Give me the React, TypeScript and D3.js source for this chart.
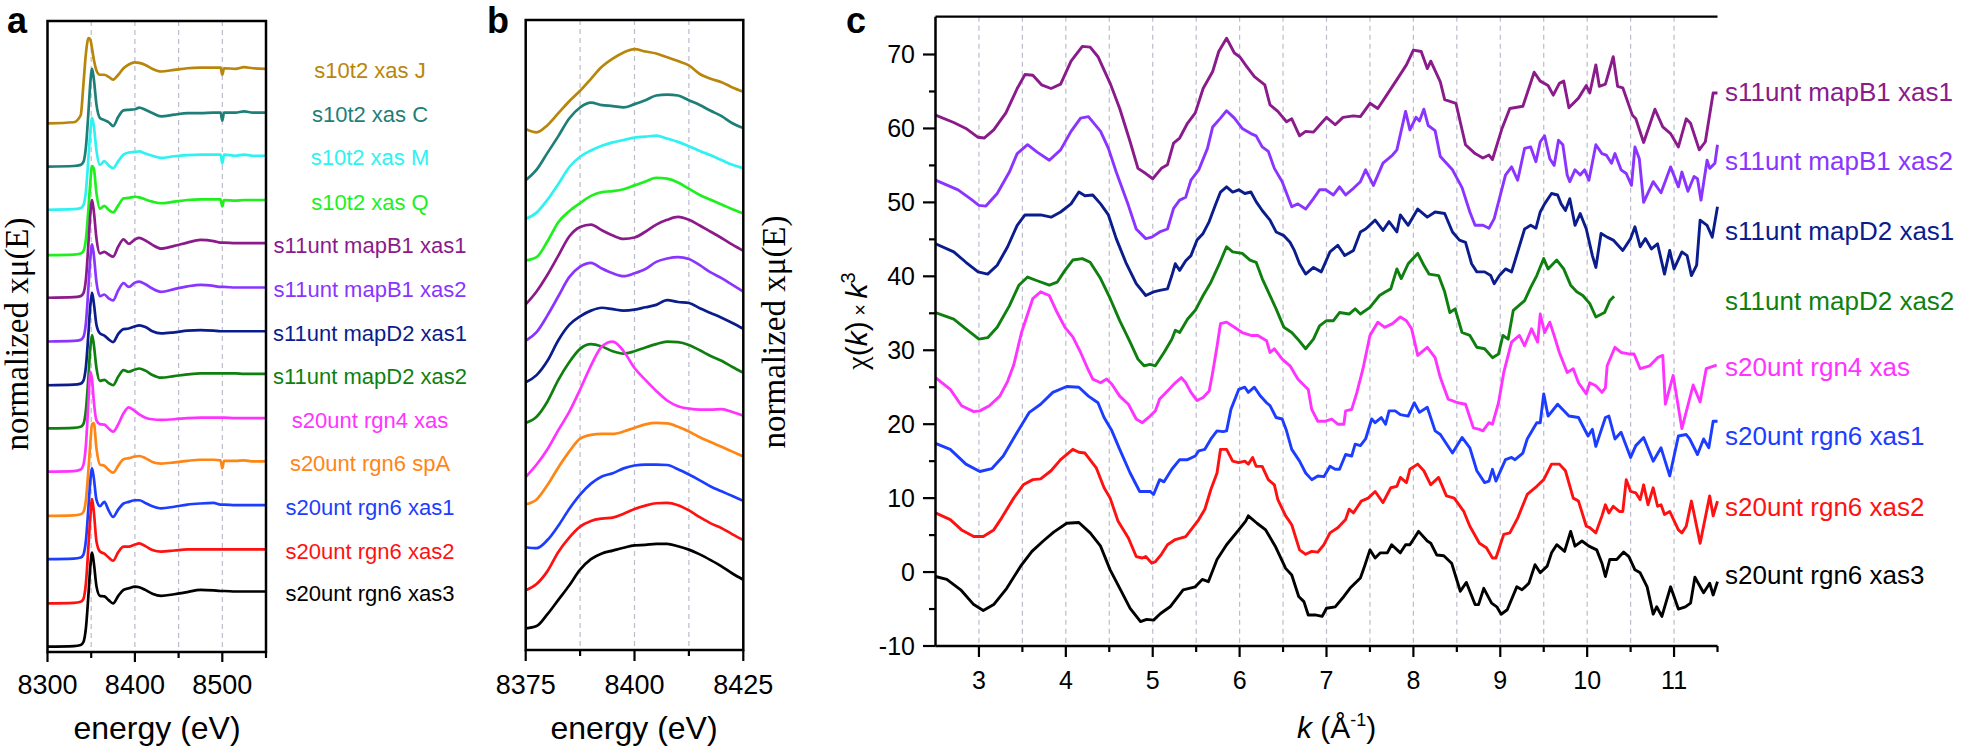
import React from 'react';
import * as d3 from 'd3';

const W = 1961;
const H = 749;
const SANS = "Arial, 'Liberation Sans', sans-serif";
const SERIF = "'Times New Roman', 'Liberation Serif', serif";

const sampleNames = [
  's10t2 xas J', 's10t2 xas C', 's10t2 xas M', 's10t2 xas Q',
  's11unt mapB1 xas1', 's11unt mapB1 xas2', 's11unt mapD2 xas1', 's11unt mapD2 xas2',
  's20unt rgn4 xas', 's20unt rgn6 spA', 's20unt rgn6 xas1', 's20unt rgn6 xas2', 's20unt rgn6 xas3',
];
const sampleColors = [
  '#B8860B', '#1E7F78', '#2EF2F2', '#1EF01E',
  '#8B1A8B', '#8A35FF', '#0B1C8C', '#0F7F0F',
  '#FF33FF', '#FF8515', '#1C3DFF', '#FF1111', '#000000',
];

// ---- panel a : full XANES, normalized mu(E), stacked by offset
const energyA = [8300, 8330, 8338, 8341, 8344, 8347, 8349, 8351, 8353, 8356, 8360, 8365, 8370, 8375, 8381, 8387, 8393, 8400, 8405, 8412, 8420, 8430, 8445, 8460, 8475, 8490, 8498, 8500, 8502, 8515, 8525, 8535, 8550];
const offsetsA = [9.79, 8.99, 8.19, 7.35, 6.56, 5.75, 4.94, 4.14, 3.34, 2.52, 1.72, 0.90, 0.10];
const muJ = [0, 0.02, 0.15, 0.7, 1.3, 1.58, 1.55, 1.38, 1.18, 0.98, 0.9, 0.9, 0.86, 0.81, 0.9, 1.02, 1.09, 1.13, 1.12, 1.08, 1.01, 0.96, 0.99, 1.02, 1.03, 1.03, 1.03, 0.9, 1.02, 1.01, 1.04, 1.02, 1.01];
const muC = [0, 0.01, 0.03, 0.08, 0.37, 1.05, 1.55, 1.81, 1.62, 1.15, 0.9, 0.86, 0.82, 0.75, 0.92, 1.04, 1.05, 1.06, 1.09, 1.05, 0.99, 0.93, 0.96, 0.99, 0.99, 1.0, 1.0, 0.85, 1.0, 1.0, 1.02, 1.0, 1.0];
const muM = [0, 0.01, 0.03, 0.08, 0.35, 1.0, 1.45, 1.7, 1.55, 1.1, 0.83, 0.9, 0.82, 0.77, 0.9, 1.02, 1.06, 1.07, 1.08, 1.04, 1.0, 0.96, 0.99, 1.01, 1.02, 1.02, 1.02, 0.86, 1.02, 1.0, 1.02, 1.0, 1.0];
const muQ = [0, 0.01, 0.03, 0.07, 0.3, 0.9, 1.35, 1.65, 1.6, 1.15, 0.86, 0.91, 0.84, 0.79, 0.92, 1.05, 1.06, 1.08, 1.07, 1.03, 0.99, 0.96, 0.99, 1.02, 1.03, 1.03, 1.03, 0.9, 1.02, 1.01, 1.02, 1.02, 1.02];
const muB1x1 = [0, 0.01, 0.03, 0.08, 0.35, 1.05, 1.55, 1.81, 1.6, 1.1, 0.82, 0.85, 0.8, 0.76, 0.95, 1.08, 1.0, 1.08, 1.11, 1.06, 0.98, 0.91, 0.96, 1.02, 1.07, 1.05, 1.02, 1.02, 1.02, 1.01, 1.01, 1.01, 1.01];
const muB1x2 = [0, 0.01, 0.03, 0.08, 0.35, 1.05, 1.55, 1.8, 1.6, 1.1, 0.84, 0.87, 0.8, 0.76, 0.95, 1.08, 1.01, 1.09, 1.11, 1.06, 0.98, 0.92, 0.97, 1.02, 1.05, 1.03, 1.01, 1.01, 1.01, 1.0, 1.0, 1.0, 1.0];
const muD2x1 = [0, 0.01, 0.03, 0.08, 0.35, 1.0, 1.48, 1.71, 1.52, 1.12, 0.96, 0.92, 0.85, 0.8, 0.95, 1.04, 1.05, 1.09, 1.11, 1.08, 1.0, 0.96, 0.98, 1.01, 1.02, 1.01, 1.0, 1.0, 1.0, 1.0, 1.0, 1.0, 1.0];
const muD2x2 = [0, 0.01, 0.03, 0.08, 0.35, 1.0, 1.5, 1.73, 1.55, 1.12, 0.88, 0.9, 0.84, 0.8, 0.96, 1.08, 1.05, 1.09, 1.11, 1.07, 0.99, 0.94, 0.97, 1.0, 1.02, 1.02, 1.02, 1.02, 1.02, 1.02, 1.01, 1.01, 1.01];
const muR4 = [0, 0.01, 0.04, 0.12, 0.5, 1.35, 1.85, 1.7, 1.3, 0.95, 0.88, 0.87, 0.8, 0.74, 0.88, 1.08, 1.19, 1.12, 1.06, 1.0, 0.97, 0.96, 0.97, 0.99, 1.0, 1.0, 1.0, 1.0, 1.0, 0.99, 0.99, 0.99, 0.99];
const muSpA = [0, 0.01, 0.03, 0.07, 0.3, 0.9, 1.35, 1.7, 1.72, 1.25, 0.95, 0.93, 0.85, 0.8, 0.93, 1.05, 1.07, 1.1, 1.11, 1.07, 1.0, 0.97, 0.99, 1.02, 1.04, 1.04, 1.03, 0.88, 1.02, 1.02, 1.03, 1.01, 1.01];
const muR6x1 = [0, 0.01, 0.03, 0.08, 0.35, 1.0, 1.45, 1.68, 1.5, 1.1, 0.98, 1.06, 0.9, 0.78, 0.92, 1.03, 1.06, 1.09, 1.09, 1.04, 0.98, 0.94, 0.97, 1.01, 1.03, 1.04, 1.01, 1.01, 1.01, 1.0, 1.0, 1.0, 1.0];
const muR6x2 = [0, 0.01, 0.03, 0.08, 0.38, 1.1, 1.6, 1.93, 1.7, 1.15, 0.96, 0.92, 0.85, 0.79, 0.95, 1.05, 1.05, 1.09, 1.11, 1.06, 0.99, 0.96, 0.98, 1.0, 1.0, 1.0, 1.0, 1.0, 1.0, 1.0, 1.0, 1.0, 1.0];
const muR6x3 = [0, 0.01, 0.03, 0.08, 0.35, 1.0, 1.48, 1.74, 1.55, 1.12, 0.94, 0.93, 0.86, 0.8, 0.94, 1.05, 1.08, 1.11, 1.1, 1.05, 0.98, 0.94, 0.97, 1.01, 1.05, 1.04, 1.03, 1.03, 1.03, 1.02, 1.02, 1.02, 1.02];
const seriesA = [muJ, muC, muM, muQ, muB1x1, muB1x2, muD2x1, muD2x2, muR4, muSpA, muR6x1, muR6x2, muR6x3];

// ---- panel b : edge region, stacked values
const energyB = [8375, 8377.5, 8380, 8382.5, 8385, 8387.5, 8390, 8392.5, 8395, 8397.5, 8400, 8402.5, 8405, 8407.5, 8410, 8412.5, 8415, 8417.5, 8420, 8422.5, 8425];
const bJ = [10.9, 10.83, 10.98, 11.23, 11.48, 11.7, 11.95, 12.2, 12.37, 12.5, 12.57, 12.52, 12.48, 12.4, 12.32, 12.23, 12.05, 11.95, 11.88, 11.77, 11.68];
const bC = [9.83, 10.05, 10.4, 10.75, 11.12, 11.35, 11.45, 11.4, 11.38, 11.35, 11.42, 11.5, 11.6, 11.62, 11.6, 11.5, 11.4, 11.28, 11.17, 11.02, 10.92];
const bM = [9.02, 9.15, 9.42, 9.75, 10.1, 10.32, 10.45, 10.55, 10.62, 10.67, 10.72, 10.74, 10.76, 10.7, 10.63, 10.54, 10.44, 10.35, 10.25, 10.15, 10.08];
const bQ = [8.15, 8.22, 8.55, 8.95, 9.18, 9.35, 9.5, 9.58, 9.6, 9.64, 9.72, 9.8, 9.88, 9.86, 9.78, 9.65, 9.52, 9.42, 9.32, 9.22, 9.13];
const bB1x1 = [7.23, 7.5, 7.85, 8.25, 8.65, 8.85, 8.9, 8.78, 8.67, 8.6, 8.63, 8.75, 8.9, 9.0, 9.06, 9.0, 8.88, 8.75, 8.62, 8.48, 8.35];
const bB1x2 = [6.47, 6.65, 7.0, 7.4, 7.8, 8.02, 8.1, 7.98, 7.88, 7.82, 7.88, 7.97, 8.12, 8.19, 8.22, 8.18, 8.05, 7.9, 7.78, 7.64, 7.5];
const bD2x1 = [5.6, 5.75, 6.05, 6.48, 6.8, 6.98, 7.1, 7.16, 7.13, 7.1, 7.12, 7.17, 7.22, 7.32, 7.28, 7.26, 7.15, 7.05, 6.95, 6.84, 6.72];
const bD2x2 = [4.75, 4.88, 5.2, 5.65, 6.02, 6.3, 6.4, 6.35, 6.25, 6.2, 6.25, 6.33, 6.4, 6.45, 6.44, 6.38, 6.27, 6.15, 6.05, 5.92, 5.8];
const bR4 = [3.62, 3.88, 4.2, 4.6, 4.98, 5.45, 5.95, 6.35, 6.45, 6.25, 5.9, 5.65, 5.42, 5.22, 5.1, 5.05, 5.03, 5.03, 5.04, 4.98, 4.9];
const bSpA = [3.05, 3.15, 3.45, 3.82, 4.15, 4.42, 4.5, 4.52, 4.52, 4.57, 4.65, 4.72, 4.75, 4.74, 4.67, 4.57, 4.45, 4.35, 4.25, 4.15, 4.05];
const bR6x1 = [2.15, 2.13, 2.3, 2.6, 2.95, 3.25, 3.48, 3.63, 3.7, 3.8, 3.86, 3.88, 3.88, 3.87, 3.78, 3.67, 3.55, 3.42, 3.32, 3.22, 3.12];
const bR6x2 = [1.25, 1.38, 1.65, 2.05, 2.35, 2.58, 2.7, 2.75, 2.77, 2.85, 2.95, 3.02, 3.07, 3.08, 3.03, 2.92, 2.78, 2.65, 2.55, 2.42, 2.3];
const bR6x3 = [0.45, 0.5, 0.75, 1.05, 1.35, 1.68, 1.9, 2.02, 2.08, 2.14, 2.19, 2.2, 2.22, 2.22, 2.17, 2.1, 2.0, 1.88, 1.75, 1.6, 1.47];
const seriesB = [bJ, bC, bM, bQ, bB1x1, bB1x2, bD2x1, bD2x2, bR4, bSpA, bR6x1, bR6x2, bR6x3];

// ---- panel c : chi(k) * k^3, [k, value] pairs (already offset)
const chiB1x1: [number, number][] = [[2.5,61.8],[2.71,60.8],[2.85,60.0],[2.99,58.8],[3.06,58.7],[3.17,59.8],[3.31,62.1],[3.44,65.4],[3.53,67.3],[3.62,67.2],[3.72,65.9],[3.83,65.4],[3.94,66.0],[4.06,69.1],[4.19,71.1],[4.28,71.0],[4.37,69.7],[4.51,66.1],[4.62,62.7],[4.74,58.2],[4.83,54.6],[4.92,53.9],[5.0,53.2],[5.1,54.6],[5.17,55.1],[5.24,58.0],[5.31,58.7],[5.4,60.7],[5.49,62.1],[5.58,65.4],[5.69,67.7],[5.76,70.4],[5.85,72.2],[5.94,70.2],[6.0,69.7],[6.08,68.4],[6.17,67.0],[6.29,65.9],[6.35,63.2],[6.44,62.3],[6.54,60.9],[6.6,61.3],[6.69,59.0],[6.76,59.6],[6.85,59.5],[6.94,60.7],[7.0,61.5],[7.1,60.5],[7.19,61.5],[7.31,61.7],[7.39,61.6],[7.5,63.4],[7.59,62.7],[7.67,64.1],[7.81,66.6],[7.92,68.6],[8.0,70.6],[8.09,70.4],[8.16,68.1],[8.2,69.1],[8.31,66.3],[8.36,63.9],[8.49,63.4],[8.6,57.8],[8.71,56.6],[8.8,56.0],[8.87,56.4],[8.91,55.8],[9.02,60.0],[9.11,62.7],[9.26,63.0],[9.39,67.6],[9.46,66.4],[9.55,65.8],[9.61,64.5],[9.68,66.1],[9.73,66.4],[9.79,62.8],[9.9,64.1],[9.99,65.8],[10.03,64.8],[10.1,68.6],[10.14,65.7],[10.21,66.0],[10.3,69.7],[10.35,65.7],[10.41,65.5],[10.52,61.8],[10.56,61.3],[10.65,58.1],[10.78,62.6],[10.87,60.2],[10.96,59.3],[11.05,57.5],[11.14,61.3],[11.19,60.7],[11.29,57.1],[11.36,58.2],[11.45,64.8],[11.5,64.8]];
const chiB1x2: [number, number][] = [[2.5,53.0],[2.76,51.7],[2.9,50.5],[3.0,49.6],[3.08,49.5],[3.21,51.2],[3.35,54.1],[3.44,56.6],[3.56,57.8],[3.67,56.8],[3.81,55.7],[3.94,57.1],[4.06,59.6],[4.17,61.4],[4.26,61.6],[4.4,59.6],[4.49,57.3],[4.58,54.1],[4.72,49.6],[4.81,46.4],[4.92,45.1],[4.99,45.3],[5.08,46.0],[5.17,46.4],[5.24,49.2],[5.31,50.3],[5.38,50.7],[5.44,53.0],[5.53,54.4],[5.63,57.3],[5.69,60.2],[5.78,61.4],[5.85,62.4],[5.94,61.4],[6.03,60.0],[6.13,59.3],[6.19,59.0],[6.26,57.5],[6.33,56.9],[6.4,54.6],[6.49,52.8],[6.6,49.4],[6.67,49.8],[6.76,49.1],[6.85,50.5],[6.92,51.7],[6.99,51.7],[7.08,51.0],[7.15,52.1],[7.22,51.0],[7.31,51.9],[7.39,52.8],[7.45,54.4],[7.54,52.3],[7.65,55.3],[7.76,56.4],[7.81,57.1],[7.91,62.3],[7.96,59.8],[8.03,61.5],[8.07,61.0],[8.12,62.6],[8.17,60.4],[8.25,59.7],[8.31,56.2],[8.45,54.4],[8.56,52.0],[8.65,48.7],[8.71,46.9],[8.8,46.9],[8.87,46.5],[8.93,47.8],[8.99,50.5],[9.06,53.7],[9.13,54.8],[9.2,53.0],[9.28,57.3],[9.35,57.5],[9.41,55.5],[9.46,58.2],[9.51,59.0],[9.57,55.9],[9.62,55.0],[9.67,58.4],[9.72,57.8],[9.77,53.7],[9.8,52.8],[9.86,54.4],[9.92,53.7],[9.97,54.4],[10.02,53.0],[10.1,57.8],[10.17,56.6],[10.22,56.4],[10.28,55.3],[10.32,56.6],[10.39,54.4],[10.45,53.9],[10.51,52.3],[10.55,57.5],[10.6,55.9],[10.65,50.0],[10.76,52.8],[10.85,51.3],[10.96,54.8],[11.05,52.1],[11.09,54.1],[11.16,51.5],[11.23,53.5],[11.27,53.2],[11.31,50.3],[11.38,55.7],[11.41,54.6],[11.47,55.3],[11.5,57.8]];
const chiD2x1: [number, number][] = [[2.5,44.4],[2.71,43.3],[2.85,41.9],[2.99,40.6],[3.1,40.3],[3.21,41.5],[3.33,44.0],[3.44,46.9],[3.53,48.3],[3.62,48.3],[3.71,48.3],[3.83,48.0],[3.94,48.7],[4.06,49.8],[4.15,51.4],[4.22,50.9],[4.31,51.0],[4.4,49.8],[4.49,48.3],[4.58,45.1],[4.69,41.9],[4.81,39.0],[4.92,37.4],[5.01,37.9],[5.08,38.1],[5.17,38.3],[5.22,40.1],[5.26,41.7],[5.31,40.8],[5.38,42.1],[5.44,42.8],[5.51,44.9],[5.58,45.8],[5.65,47.4],[5.72,49.6],[5.78,51.4],[5.85,52.1],[5.92,51.4],[5.99,51.7],[6.06,51.2],[6.13,51.4],[6.19,50.1],[6.26,48.9],[6.35,47.6],[6.42,46.0],[6.51,45.5],[6.58,44.6],[6.63,43.5],[6.69,41.7],[6.76,40.3],[6.85,41.2],[6.94,40.6],[7.04,43.3],[7.13,44.2],[7.21,42.8],[7.31,43.5],[7.39,46.0],[7.45,46.4],[7.56,47.6],[7.65,46.2],[7.72,47.4],[7.81,46.0],[7.85,48.3],[7.94,46.9],[8.05,49.1],[8.16,48.0],[8.25,48.7],[8.36,48.5],[8.45,46.0],[8.53,44.9],[8.6,44.6],[8.67,41.7],[8.73,40.6],[8.82,40.6],[8.89,40.1],[8.93,39.0],[8.99,40.1],[9.06,41.0],[9.13,40.6],[9.2,43.3],[9.28,46.4],[9.35,46.9],[9.41,46.5],[9.46,48.7],[9.51,49.8],[9.59,51.2],[9.66,51.0],[9.7,49.8],[9.75,48.9],[9.8,50.5],[9.86,46.9],[9.92,48.5],[9.99,46.4],[10.06,42.8],[10.1,41.2],[10.16,45.8],[10.23,45.3],[10.3,44.9],[10.41,43.5],[10.5,45.1],[10.55,46.7],[10.61,44.0],[10.67,45.1],[10.74,43.7],[10.81,44.4],[10.89,40.3],[10.95,43.5],[11.0,41.0],[11.09,43.3],[11.15,42.8],[11.2,40.1],[11.26,41.5],[11.3,47.6],[11.38,46.9],[11.44,45.3],[11.5,49.4]];
const chiD2x2: [number, number][] = [[2.5,35.1],[2.71,34.2],[2.85,32.9],[3.0,31.5],[3.1,31.7],[3.21,33.1],[3.35,36.0],[3.46,38.8],[3.56,39.9],[3.67,39.4],[3.81,38.8],[3.9,39.2],[3.99,40.8],[4.08,42.2],[4.19,42.4],[4.28,41.9],[4.4,39.7],[4.51,37.0],[4.62,34.0],[4.74,31.1],[4.83,28.8],[4.9,27.9],[4.97,28.1],[5.03,27.9],[5.13,29.7],[5.22,31.5],[5.26,32.7],[5.31,32.4],[5.4,34.2],[5.49,35.4],[5.58,37.4],[5.67,39.2],[5.76,41.5],[5.85,44.0],[5.92,43.3],[6.03,43.1],[6.12,42.2],[6.19,41.9],[6.26,39.7],[6.35,37.4],[6.42,35.6],[6.51,33.1],[6.6,32.4],[6.67,31.5],[6.76,30.2],[6.85,31.5],[6.92,33.3],[7.0,34.0],[7.08,34.0],[7.15,35.1],[7.26,34.9],[7.33,35.6],[7.39,34.9],[7.5,35.8],[7.61,37.4],[7.68,37.9],[7.74,38.3],[7.81,41.0],[7.86,39.7],[7.94,41.7],[8.05,43.1],[8.12,41.5],[8.18,40.3],[8.29,40.1],[8.36,37.9],[8.42,35.1],[8.48,35.6],[8.56,32.4],[8.65,32.0],[8.73,30.4],[8.82,30.2],[8.91,29.0],[8.98,29.5],[9.03,32.0],[9.09,31.5],[9.15,35.4],[9.28,36.7],[9.35,38.5],[9.42,40.1],[9.5,42.4],[9.55,41.0],[9.65,42.2],[9.73,41.0],[9.81,38.8],[9.88,37.9],[9.95,37.4],[10.03,36.3],[10.1,34.5],[10.2,35.1],[10.26,36.7],[10.31,37.3]];
const chiR4: [number, number][] = [[2.5,26.3],[2.67,24.7],[2.8,22.5],[2.94,21.7],[3.01,21.8],[3.12,22.5],[3.24,23.8],[3.33,25.8],[3.4,28.0],[3.49,32.4],[3.62,37.0],[3.71,37.9],[3.81,37.4],[3.9,35.1],[3.99,33.1],[4.08,31.8],[4.17,29.7],[4.26,27.3],[4.31,26.1],[4.4,25.6],[4.47,26.1],[4.53,25.4],[4.62,23.8],[4.72,22.7],[4.81,20.7],[4.88,20.2],[4.97,21.1],[5.03,21.8],[5.08,23.4],[5.17,24.5],[5.26,25.6],[5.33,26.3],[5.38,25.6],[5.44,24.3],[5.51,23.2],[5.58,23.6],[5.65,24.5],[5.69,27.0],[5.74,30.5],[5.78,33.6],[5.85,33.8],[5.94,33.1],[6.03,32.4],[6.13,32.0],[6.21,32.0],[6.31,31.3],[6.35,29.7],[6.4,30.2],[6.49,28.8],[6.58,27.9],[6.67,26.1],[6.72,25.5],[6.79,24.7],[6.83,22.0],[6.9,20.4],[6.99,20.4],[7.06,20.7],[7.13,20.0],[7.2,20.0],[7.22,21.8],[7.29,22.0],[7.35,24.3],[7.42,27.5],[7.5,32.0],[7.59,33.8],[7.67,33.1],[7.76,33.6],[7.85,34.5],[7.92,34.0],[7.98,32.9],[8.05,29.3],[8.16,30.4],[8.25,29.0],[8.31,26.3],[8.4,23.4],[8.51,22.9],[8.6,22.7],[8.69,19.5],[8.76,19.3],[8.8,19.1],[8.87,20.2],[8.91,20.0],[8.98,22.9],[9.04,27.0],[9.13,31.1],[9.22,32.0],[9.28,30.6],[9.36,32.9],[9.43,31.1],[9.46,34.9],[9.51,32.4],[9.57,33.8],[9.62,32.0],[9.68,29.7],[9.77,27.0],[9.84,27.5],[9.9,25.6],[9.99,24.1],[10.03,25.6],[10.1,25.2],[10.17,24.3],[10.21,24.9],[10.23,27.9],[10.32,30.4],[10.39,29.7],[10.48,29.5],[10.54,29.5],[10.61,27.5],[10.72,27.9],[10.81,29.0],[10.87,29.3],[10.9,22.7],[10.99,26.6],[11.09,19.4],[11.22,25.3],[11.3,23.0],[11.37,27.5],[11.49,28.0]];
const chiR6x1: [number, number][] = [[2.5,17.4],[2.67,16.6],[2.85,14.6],[3.01,13.6],[3.15,14.0],[3.28,15.7],[3.44,18.9],[3.58,21.6],[3.71,22.7],[3.85,24.3],[4.01,25.1],[4.15,25.0],[4.26,23.8],[4.37,22.9],[4.44,20.9],[4.53,19.1],[4.62,16.6],[4.74,13.4],[4.85,10.9],[4.97,10.9],[5.01,10.5],[5.08,12.5],[5.13,12.2],[5.22,13.9],[5.31,15.2],[5.4,15.2],[5.49,15.7],[5.53,16.4],[5.6,16.6],[5.67,18.0],[5.74,19.1],[5.81,19.0],[5.85,19.1],[5.9,22.0],[5.99,24.7],[6.06,25.0],[6.1,24.3],[6.17,25.0],[6.24,23.8],[6.31,22.9],[6.35,22.5],[6.42,20.9],[6.49,20.7],[6.54,19.1],[6.6,16.6],[6.69,15.0],[6.76,13.4],[6.83,12.5],[6.9,13.0],[6.97,12.9],[7.04,14.3],[7.1,13.9],[7.15,13.9],[7.22,15.9],[7.29,15.7],[7.33,17.3],[7.39,17.1],[7.45,18.0],[7.52,20.7],[7.56,20.2],[7.63,20.9],[7.68,20.0],[7.72,21.8],[7.79,21.8],[7.85,21.3],[7.94,21.1],[8.01,22.9],[8.07,21.6],[8.16,22.3],[8.25,19.1],[8.31,18.6],[8.45,16.1],[8.56,18.2],[8.65,16.8],[8.73,13.7],[8.82,12.1],[8.87,12.3],[8.91,13.9],[8.95,12.3],[9.06,15.2],[9.13,15.5],[9.17,15.2],[9.26,16.1],[9.31,18.0],[9.42,20.2],[9.46,20.2],[9.5,24.1],[9.55,21.1],[9.66,22.7],[9.79,21.1],[9.9,20.9],[10.01,18.4],[10.06,19.3],[10.1,17.0],[10.21,20.9],[10.25,21.1],[10.32,18.0],[10.39,18.9],[10.5,15.5],[10.56,17.1],[10.65,18.2],[10.76,15.0],[10.85,16.8],[10.95,13.0],[11.05,18.4],[11.14,18.6],[11.18,18.0],[11.27,15.9],[11.34,18.0],[11.4,16.8],[11.45,20.4],[11.5,20.4]];
const chiR6x2: [number, number][] = [[2.5,8.0],[2.67,7.1],[2.8,5.7],[2.94,4.8],[3.05,4.8],[3.17,5.7],[3.26,7.3],[3.4,10.0],[3.51,11.8],[3.62,12.5],[3.71,12.6],[3.83,13.7],[3.94,15.2],[4.08,16.6],[4.15,16.2],[4.22,16.1],[4.35,14.1],[4.44,11.4],[4.51,10.0],[4.6,6.9],[4.72,4.6],[4.81,2.1],[4.88,1.9],[4.92,2.1],[4.99,1.2],[5.03,1.4],[5.1,2.4],[5.17,3.7],[5.26,4.4],[5.38,4.8],[5.44,5.7],[5.53,7.1],[5.6,8.5],[5.67,11.2],[5.74,13.4],[5.78,16.6],[5.85,16.6],[5.92,15.0],[5.99,14.8],[6.06,15.0],[6.1,14.6],[6.15,15.5],[6.19,14.3],[6.26,14.3],[6.33,12.5],[6.4,11.8],[6.44,9.8],[6.53,7.6],[6.6,6.4],[6.69,3.0],[6.76,2.4],[6.83,2.8],[6.9,2.7],[6.97,3.7],[7.04,5.3],[7.13,6.0],[7.22,7.1],[7.26,8.5],[7.31,8.0],[7.4,9.6],[7.48,10.0],[7.56,10.9],[7.65,9.4],[7.74,11.4],[7.81,11.6],[7.85,12.8],[7.92,12.1],[7.96,13.9],[8.05,14.6],[8.12,13.7],[8.2,11.8],[8.29,12.8],[8.38,10.3],[8.47,10.0],[8.58,8.2],[8.65,6.2],[8.76,3.9],[8.84,3.3],[8.91,1.9],[8.95,1.9],[9.04,5.1],[9.11,5.3],[9.2,7.3],[9.31,10.5],[9.42,11.6],[9.5,12.5],[9.59,14.6],[9.68,14.6],[9.75,13.7],[9.84,10.0],[9.9,9.6],[9.99,6.2],[10.03,6.0],[10.1,5.3],[10.17,7.6],[10.21,9.1],[10.25,8.0],[10.3,8.9],[10.37,8.2],[10.41,8.2],[10.45,12.5],[10.5,10.9],[10.56,10.7],[10.61,9.8],[10.65,11.8],[10.7,9.1],[10.76,11.4],[10.81,8.9],[10.85,9.1],[10.89,7.8],[10.95,8.2],[11.05,5.7],[11.09,5.3],[11.14,6.2],[11.2,9.6],[11.3,3.9],[11.41,10.3],[11.45,7.6],[11.5,9.6]];
const chiR6x3: [number, number][] = [[2.5,-0.6],[2.63,-1.0],[2.79,-2.4],[2.94,-4.4],[3.05,-5.2],[3.17,-4.4],[3.32,-2.2],[3.48,0.8],[3.61,2.8],[3.74,4.2],[3.86,5.4],[4.01,6.6],[4.15,6.7],[4.28,5.3],[4.4,3.5],[4.51,0.3],[4.63,-2.4],[4.74,-4.9],[4.86,-6.7],[4.93,-6.4],[5.01,-6.5],[5.09,-5.6],[5.2,-4.7],[5.35,-2.4],[5.49,-2.0],[5.57,-1.0],[5.64,-1.3],[5.74,1.7],[5.85,3.7],[5.99,5.7],[6.07,6.9],[6.1,7.6],[6.2,6.6],[6.3,5.7],[6.41,3.5],[6.53,0.5],[6.6,-0.4],[6.68,-3.3],[6.74,-4.0],[6.79,-5.8],[6.87,-5.8],[6.95,-6.0],[7.0,-4.9],[7.1,-4.7],[7.2,-3.3],[7.27,-2.2],[7.39,-0.8],[7.43,0.5],[7.5,3.0],[7.56,1.9],[7.62,2.6],[7.7,2.6],[7.75,3.7],[7.85,2.6],[7.91,3.7],[7.96,3.7],[8.06,5.5],[8.16,4.2],[8.2,3.9],[8.27,2.3],[8.35,2.2],[8.44,1.2],[8.54,-2.6],[8.61,-1.4],[8.71,-4.4],[8.75,-4.4],[8.81,-2.2],[8.9,-4.2],[8.96,-4.7],[9.01,-5.7],[9.08,-5.1],[9.19,-2.0],[9.25,-2.4],[9.33,-1.5],[9.4,1.0],[9.46,-0.1],[9.54,0.8],[9.59,2.6],[9.65,3.7],[9.74,2.8],[9.81,5.5],[9.86,3.5],[9.94,4.2],[10.02,3.5],[10.11,3.0],[10.17,1.2],[10.21,-0.6],[10.26,1.7],[10.34,1.7],[10.42,2.7],[10.48,2.1],[10.55,0.3],[10.61,-0.1],[10.69,-2.0],[10.76,-5.7],[10.8,-4.7],[10.86,-6.0],[10.96,-2.0],[11.05,-5.0],[11.13,-4.7],[11.19,-4.2],[11.24,-0.7],[11.34,-2.8],[11.41,-1.5],[11.45,-3.1],[11.5,-1.3]];
const seriesC = [chiB1x1, chiB1x2, chiD2x1, chiD2x2, chiR4, chiR6x1, chiR6x2, chiR6x3];
// panel c has no spA spectrum
const sampleIndexC = [4, 5, 6, 7, 8, 10, 11, 12];
const labelLevelC = [64.9, 55.6, 46.2, 36.7, 27.7, 18.4, 8.8, -0.4];

const ticksA = [8300, 8400, 8500];
const minorA = [8350, 8450, 8550];
const gridA = [8350, 8400, 8450, 8500];
const ticksB = [8375, 8400, 8425];
const minorB = [8387.5, 8412.5];
const gridB = [8387.5, 8400, 8412.5];
const ticksCx = [3, 4, 5, 6, 7, 8, 9, 10, 11];
const ticksCy = [-10, 0, 10, 20, 30, 40, 50, 60, 70];

// scales
const xA = d3.scaleLinear([8300, 8550], [47.5, 266]);
const yA = d3.scaleLinear([0, 11.685], [652, 21]);
const xB = d3.scaleLinear([8375, 8425], [525.7, 743.3]);
const yB = d3.scaleLinear([0, 13.18], [650, 20]);
const xC = d3.scaleLinear([2.5, 11.5], [935.5, 1717.5]);
const yC = d3.scaleLinear([-10, 70], [646, 54.5]);
const topC = 16.7;

const GRID = '#bcbccc';

function Frame({ x0, x1, y0, y1 }: { x0: number; x1: number; y0: number; y1: number }) {
  return <rect x={x0} y={y0} width={x1 - x0} height={y1 - y0} fill="none" stroke="#000" strokeWidth={2.5} />;
}

export default function App() {
  const lineA = (vals: number[], off: number) =>
    d3.line<number>().x((_, i) => xA(energyA[i])).y(v => yA(v + off)).curve(d3.curveMonotoneX)(vals) || '';
  const lineB = (vals: number[]) =>
    d3.line<number>().x((_, i) => xB(energyB[i])).y(v => yB(v)).curve(d3.curveMonotoneX)(vals) || '';
  const lineC = d3.line<[number, number]>().x(d => xC(d[0])).y(d => yC(d[1]));

  const gridC = d3.range(3, 11.01, 0.5);
  const minorCx = d3.range(3.5, 11.6, 1);
  const minorCy = d3.range(-5, 71, 10);

  return (
    <svg width={W} height={H} style={{ position: 'absolute', left: 0, top: 0, background: '#fff' }}>
      <rect x={0} y={0} width={W} height={H} fill="#fff" />

      {/* ---------- panel a ---------- */}
      <text x={7} y={33} fontFamily={SANS} fontWeight="bold" fontSize={36}>a</text>
      {gridA.map(e => (
        <line key={e} x1={xA(e)} x2={xA(e)} y1={21} y2={652} stroke={GRID} strokeWidth={1.2} strokeDasharray="5,4" />
      ))}
      {seriesA.map((s, i) => (
        <path key={i} d={lineA(s, offsetsA[i])} fill="none" stroke={sampleColors[i]} strokeWidth={2.7} strokeLinejoin="round" />
      ))}
      <Frame x0={47.5} x1={266} y0={21} y1={652} />
      {ticksA.map(t => <line key={t} x1={xA(t)} x2={xA(t)} y1={652} y2={662} stroke="#000" strokeWidth={2.2} />)}
      {minorA.map(t => <line key={t} x1={xA(t)} x2={xA(t)} y1={652} y2={658} stroke="#000" strokeWidth={2.2} />)}
      {ticksA.map(t => (
        <text key={t} x={xA(t)} y={694} textAnchor="middle" fontFamily={SANS} fontSize={27}>{t}</text>
      ))}
      <text x={157} y={739} textAnchor="middle" fontFamily={SANS} fontSize={32}>energy (eV)</text>
      <text transform="translate(28,334) rotate(-90)" textAnchor="middle" fontFamily={SERIF} fontSize={33}>normalized xμ(E)</text>
      {seriesA.map((s, i) => (
        <text key={i} x={370} y={yA(s[s.length - 1] + offsetsA[i]) + 2} dy="0.35em" textAnchor="middle"
          fontFamily={SANS} fontSize={22} fill={sampleColors[i]}>{sampleNames[i]}</text>
      ))}

      {/* ---------- panel b ---------- */}
      <text x={487} y={33} fontFamily={SANS} fontWeight="bold" fontSize={36}>b</text>
      {gridB.map(e => (
        <line key={e} x1={xB(e)} x2={xB(e)} y1={20} y2={650} stroke={GRID} strokeWidth={1.2} strokeDasharray="5,4" />
      ))}
      {seriesB.map((s, i) => (
        <path key={i} d={lineB(s)} fill="none" stroke={sampleColors[i]} strokeWidth={2.7} strokeLinejoin="round" />
      ))}
      <Frame x0={525.7} x1={743.3} y0={20} y1={650} />
      {ticksB.map(t => <line key={t} x1={xB(t)} x2={xB(t)} y1={650} y2={661} stroke="#000" strokeWidth={2.2} />)}
      {minorB.map(t => <line key={t} x1={xB(t)} x2={xB(t)} y1={650} y2={656} stroke="#000" strokeWidth={2.2} />)}
      {ticksB.map(t => (
        <text key={t} x={xB(t)} y={694} textAnchor="middle" fontFamily={SANS} fontSize={27}>{t}</text>
      ))}
      <text x={634} y={739} textAnchor="middle" fontFamily={SANS} fontSize={32}>energy (eV)</text>
      <text transform="translate(785,332) rotate(-90)" textAnchor="middle" fontFamily={SERIF} fontSize={33}>normalized xμ(E)</text>

      {/* ---------- panel c ---------- */}
      <text x={846} y={33} fontFamily={SANS} fontWeight="bold" fontSize={36}>c</text>
      {gridC.map(k => (
        <line key={k} x1={xC(k)} x2={xC(k)} y1={topC} y2={646} stroke={GRID} strokeWidth={1.2} strokeDasharray="5,4" />
      ))}
      {seriesC.map((s, i) => (
        <path key={i} d={lineC(s) || ''} fill="none" stroke={sampleColors[sampleIndexC[i]]} strokeWidth={2.9} strokeLinejoin="round" />
      ))}
      <line x1={935.5} x2={1717.5} y1={topC} y2={topC} stroke="#000" strokeWidth={2.2} />
      <line x1={935.5} x2={935.5} y1={topC} y2={646} stroke="#000" strokeWidth={2.5} />
      <line x1={935.5} x2={1717.5} y1={646} y2={646} stroke="#000" strokeWidth={2.5} />
      {ticksCx.map(t => <line key={t} x1={xC(t)} x2={xC(t)} y1={646} y2={657} stroke="#000" strokeWidth={2.2} />)}
      {minorCx.map(t => <line key={t} x1={xC(t)} x2={xC(t)} y1={646} y2={652} stroke="#000" strokeWidth={2.2} />)}
      {ticksCy.map(t => <line key={t} x1={923} x2={935.5} y1={yC(t)} y2={yC(t)} stroke="#000" strokeWidth={2.2} />)}
      {minorCy.map(t => <line key={t} x1={929} x2={935.5} y1={yC(t)} y2={yC(t)} stroke="#000" strokeWidth={2.2} />)}
      {ticksCx.map(t => (
        <text key={t} x={xC(t)} y={689} textAnchor="middle" fontFamily={SANS} fontSize={25}>{t}</text>
      ))}
      {ticksCy.map(t => (
        <text key={t} x={915} y={yC(t)} dy="0.35em" textAnchor="end" fontFamily={SANS} fontSize={25}>{t}</text>
      ))}
      <text x={1297} y={738} fontFamily={SANS} fontSize={30}>
        <tspan fontStyle="italic">k</tspan> (Å<tspan dy={-12} fontSize={18}>-1</tspan><tspan dy={12}>)</tspan>
      </text>
      <text transform="translate(867,321) rotate(-90)" textAnchor="middle" fontFamily={SANS} fontSize={30}>
        <tspan fontFamily={SERIF}>χ</tspan>(<tspan fontStyle="italic">k</tspan>)<tspan fontSize={20}> × </tspan><tspan fontStyle="italic">k</tspan><tspan dy={-12} fontSize={20}>3</tspan>
      </text>
      {sampleIndexC.map((si, i) => (
        <text key={si} x={1725} y={yC(labelLevelC[i])} dy="0.35em" fontFamily={SANS} fontSize={26} fill={sampleColors[si]}>{sampleNames[si]}</text>
      ))}
    </svg>
  );
}
